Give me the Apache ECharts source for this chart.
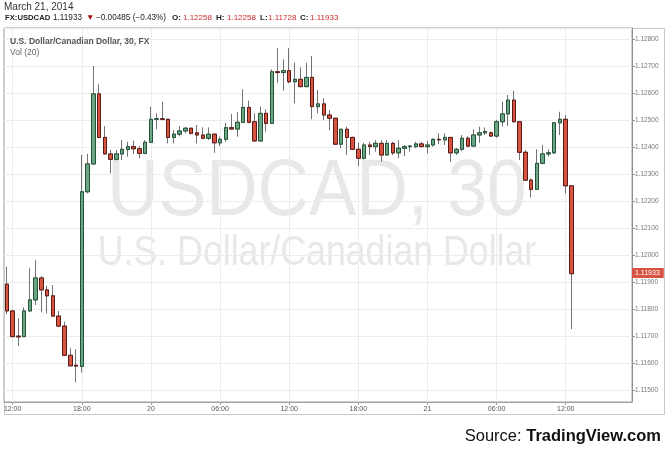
<!DOCTYPE html>
<html><head><meta charset="utf-8">
<script src="https://cdn.jsdelivr.net/npm/echarts@6/dist/echarts.min.js"></script>
<style>html,body{margin:0;padding:0;background:#fff}#c{width:670px;height:454px}</style>
</head><body><div id="c"></div>
<script>
// ---- data (30-minute bars, USDCAD, from 19 Mar 11:30 to 21 Mar 12:30) ----
const firstBar = '11:30';
const tickIndex = [1, 13, 25, 37, 49, 61, 73, 85, 97];
const tickLabels = ['12:00', '18:00', '20', '06:00', '12:00', '18:00', '21', '06:00', '12:00'];
const yTickLabelsDigits = 5;
const openV = [
1.11894,1.11795,1.11702,1.11700,1.11795,1.11836,1.11917,1.11873,1.11851,1.11776,
1.11739,1.11631,1.11594,1.11590,1.12236,1.12339,1.12598,1.12437,1.12376,1.12356,
1.12376,1.12393,1.12403,1.12395,1.12378,1.12419,1.12504,1.12506,1.12504,1.12437,
1.12449,1.12461,1.12471,1.12454,1.12446,1.12434,1.12449,1.12417,1.12430,1.12473,
1.12468,1.12493,1.12548,1.12495,1.12424,1.12526,1.12489,1.12680,1.12677,1.12684,
1.12643,1.12652,1.12625,1.12659,1.12551,1.12561,1.12520,1.12508,1.12412,1.12467,
1.12437,1.12393,1.12360,1.12409,1.12403,1.12415,1.12372,1.12415,1.12380,1.12397,
1.12403,1.12403,1.12413,1.12403,1.12409,1.12430,1.12428,1.12437,1.12380,1.12393,
1.12434,1.12405,1.12446,1.12454,1.12454,1.12442,1.12495,1.12524,1.12575,1.12495,
1.12382,1.12279,1.12245,1.12341,1.12376,1.12380,1.12491,1.12504,1.12258];
const closeV = [
1.11795,1.11700,1.11699,1.11795,1.11836,1.11917,1.11873,1.11851,1.11776,1.11739,
1.11631,1.11592,1.11591,1.12236,1.12339,1.12598,1.12437,1.12376,1.12356,1.12376,
1.12393,1.12403,1.12395,1.12378,1.12419,1.12504,1.12506,1.12504,1.12437,1.12449,
1.12461,1.12471,1.12452,1.12446,1.12434,1.12449,1.12417,1.12430,1.12473,1.12468,
1.12493,1.12548,1.12493,1.12424,1.12526,1.12489,1.12680,1.12677,1.12684,1.12643,
1.12652,1.12625,1.12659,1.12551,1.12561,1.12520,1.12508,1.12412,1.12467,1.12437,
1.12393,1.12360,1.12409,1.12403,1.12415,1.12372,1.12415,1.12380,1.12397,1.12403,
1.12405,1.12413,1.12403,1.12409,1.12430,1.12428,1.12437,1.12380,1.12393,1.12434,
1.12405,1.12446,1.12454,1.12459,1.12442,1.12495,1.12524,1.12575,1.12495,1.12382,
1.12279,1.12245,1.12341,1.12376,1.12380,1.12491,1.12504,1.12258,1.11933];
const highV = [
1.11959,1.11798,1.11768,1.11809,1.11953,1.11983,1.11924,1.11888,1.11891,1.11795,
1.11755,1.11657,1.11654,1.12372,1.12376,1.12701,1.12634,1.12479,1.12390,1.12390,
1.12427,1.12421,1.12425,1.12405,1.12427,1.12551,1.12526,1.12569,1.12506,1.12464,
1.12479,1.12476,1.12472,1.12483,1.12474,1.12474,1.12452,1.12440,1.12491,1.12524,
1.12532,1.12615,1.12573,1.12526,1.12551,1.12541,1.12689,1.12767,1.12726,1.12767,
1.12713,1.12696,1.12713,1.12738,1.12612,1.12582,1.12538,1.12508,1.12470,1.12477,
1.12440,1.12417,1.12417,1.12421,1.12427,1.12427,1.12427,1.12421,1.12427,1.12409,
1.12409,1.12421,1.12421,1.12424,1.12434,1.12452,1.12452,1.12437,1.12398,1.12446,
1.12441,1.12467,1.12477,1.12474,1.12459,1.12502,1.12569,1.12594,1.12610,1.12495,
1.12390,1.12286,1.12393,1.12409,1.12393,1.12493,1.12532,1.12520,1.12258];
const lowV = [
1.11783,1.11698,1.11666,1.11698,1.11793,1.11817,1.11790,1.11786,1.11774,1.11735,
1.11628,1.11591,1.11531,1.11567,1.12230,1.12335,1.12435,1.12374,1.12304,1.12352,
1.12353,1.12366,1.12376,1.12360,1.12375,1.12417,1.12467,1.12500,1.12415,1.12415,
1.12441,1.12452,1.12448,1.12415,1.12430,1.12427,1.12380,1.12405,1.12421,1.12466,
1.12440,1.12490,1.12489,1.12421,1.12421,1.12458,1.12487,1.12639,1.12610,1.12637,
1.12563,1.12622,1.12622,1.12504,1.12526,1.12501,1.12464,1.12410,1.12397,1.12372,
1.12390,1.12331,1.12355,1.12372,1.12384,1.12347,1.12370,1.12372,1.12360,1.12368,
1.12384,1.12397,1.12401,1.12378,1.12403,1.12413,1.12409,1.12347,1.12372,1.12386,
1.12401,1.12403,1.12417,1.12446,1.12439,1.12436,1.12477,1.12479,1.12493,1.12353,
1.12278,1.12215,1.12243,1.12338,1.12366,1.12376,1.12446,1.12230,1.11728];
const emptySlots = 10;
const lastPrice = 1.11933;
const yMin = 1.114582, yMax = 1.128418;

// ---- build categories (bar start times) ----
const categories = [];
{
  let [h, m] = firstBar.split(':').map(Number);
  for (let i = 0; i < openV.length + emptySlots; i++) {
    categories.push(String(h).padStart(2, '0') + ':' + String(m).padStart(2, '0') + '#' + i);
    m += 30; if (m >= 60) { m = 0; h = (h + 1) % 24; }
  }
}
const wickData = openV.map((o, i) => [o, closeV[i], lowV[i], highV[i]]);
const bodyData = openV.map((o, i) => [o, closeV[i], Math.min(o, closeV[i]), Math.max(o, closeV[i])]);

const FONT = '"Liberation Sans", Arial, sans-serif';
const chart = echarts.init(document.getElementById('c'), null, { renderer: 'canvas' });

function txt(text, x, y, opt) {
  return Object.assign({ type: 'text', x: x, y: y, z: 10,
    style: Object.assign({ text: text, font: '9px ' + FONT, fill: '#222', textVerticalAlign: 'middle' }, opt || {}) });
}

const graphics = [
  { type: 'rect', z: 0, silent: true, shape: { x: 4.5, y: 28.5, width: 660, height: 386 }, style: { fill: 'none', stroke: '#c8c8c8', lineWidth: 1 } },
  { type: 'text', z: 0, x: 317, y: 193, scaleX: 0.89, silent: true,
    style: { text: 'USDCAD, 30', font: '80px ' + FONT, fill: '#e8e8e8', textAlign: 'center', textVerticalAlign: 'middle' } },
  { type: 'text', z: 0, x: 317, y: 253, scaleX: 0.85, silent: true,
    style: { text: 'U.S. Dollar/Canadian Dollar', font: '42px ' + FONT, fill: '#e8e8e8', textAlign: 'center', textVerticalAlign: 'middle' } },
  txt('March 21, 2014', 4, 7, { font: '10px ' + FONT, fill: '#333' }),
  txt('FX:USDCAD', 5, 18, { font: 'bold 7.7px ' + FONT }),
  txt('1.11933', 53, 18, { font: '8.2px ' + FONT }),
  txt('▼', 86, 18, { font: '8.5px ' + FONT, fill: '#a01010' }),
  txt('\u22120.00485 (\u22120.43%)', 96, 18, { font: '8.2px ' + FONT }),
  txt('O:', 172, 18, { font: 'bold 8px ' + FONT }),
  txt('1.12258', 183, 18, { font: '8px ' + FONT, fill: '#cc2a2a' }),
  txt('H:', 216, 18, { font: 'bold 8px ' + FONT }),
  txt('1.12258', 227, 18, { font: '8px ' + FONT, fill: '#cc2a2a' }),
  txt('L:', 260, 18, { font: 'bold 8px ' + FONT }),
  txt('1.11728', 268, 18, { font: '8px ' + FONT, fill: '#cc2a2a' }),
  txt('C:', 300, 18, { font: 'bold 8px ' + FONT }),
  txt('1.11933', 310, 18, { font: '8px ' + FONT, fill: '#cc2a2a' }),
  txt('U.S. Dollar/Canadian Dollar, 30, FX', 10, 41.5, { font: 'bold 8.5px ' + FONT, fill: '#555' }),
  txt('Vol (20)', 10, 52.5, { font: '8.5px ' + FONT, fill: '#666' }),
  { type: 'text', z: 10, x: 661, y: 436, style: { text: '{a|Source: }{b|TradingView.com}', textAlign: 'right', textVerticalAlign: 'middle',
    rich: { a: { font: '16.5px ' + FONT, fill: '#111' }, b: { font: 'bold 16.5px ' + FONT, fill: '#111' } } } }
];

chart.setOption({
  animation: false,
  backgroundColor: '#fff',
  grid: { left: 4, right: 38, top: 28, bottom: 52, show: true, borderColor: '#a0a0a0', borderWidth: 1, backgroundColor: 'transparent' },
  xAxis: {
    type: 'category', data: categories, boundaryGap: true,
    axisLine: { show: true, lineStyle: { color: '#a0a0a0' } },
    axisTick: { show: true, alignWithLabel: true, length: 3, interval: (i) => tickIndex.includes(i), lineStyle: { color: '#a0a0a0' } },
    axisLabel: { interval: (i) => tickIndex.includes(i), formatter: (v, i) => tickLabels[tickIndex.indexOf(i)] || '',
      fontSize: 7, color: '#555', fontFamily: FONT, margin: 4 },
    splitLine: { show: false }
  },
  yAxis: {
    type: 'value', position: 'right', min: yMin, max: yMax, splitNumber: 14, scale: true,
    axisLine: { show: true, lineStyle: { color: '#909090' } },
    axisTick: { show: true, length: 3, lineStyle: { color: '#909090' } },
    axisLabel: { fontSize: 6.5, color: '#777', fontFamily: FONT, margin: 3, showMinLabel: false, showMaxLabel: false,
      formatter: (v) => v.toFixed(yTickLabelsDigits) },
    splitLine: { show: true, lineStyle: { color: '#ececec', width: 1 } }
  },
  series: [
    { // vertical grid lines at the time ticks
      type: 'line', data: [], z: 1, silent: true,
      markLine: { z: 1, silent: true, symbol: 'none', animation: false, label: { show: false },
        lineStyle: { color: '#ececec', width: 1, type: 'solid' },
        data: tickIndex.map(i => ({ xAxis: i })) }
    },
    { // wicks
      type: 'candlestick', data: wickData, barWidth: 4, z: 3, silent: true,
      itemStyle: { color: '#737375', color0: '#737375', borderColor: '#737375', borderColor0: '#737375', borderWidth: 1 }
    },
    { // bodies
      type: 'candlestick', data: bodyData, barWidth: 4, z: 4, silent: true,
      itemStyle: { color: '#6ba583', color0: '#d75442', borderColor: '#225437', borderColor0: '#5b1a13', borderWidth: 1 }
    }
  ],
  graphic: graphics
});

// price tag on the right axis, positioned through the value axis
const py = chart.convertToPixel({ yAxisIndex: 0 }, lastPrice);
chart.setOption({
  graphic: graphics.concat([
    { type: 'text', z: 20, x: 632, y: Math.round(py) - 1, silent: true,
      style: { text: lastPrice.toFixed(5), font: '7px ' + FONT, fill: '#fff', backgroundColor: '#d75442',
        padding: [2, 4, 1, 3], textVerticalAlign: 'middle' } }
  ])
});
</script></body></html>
